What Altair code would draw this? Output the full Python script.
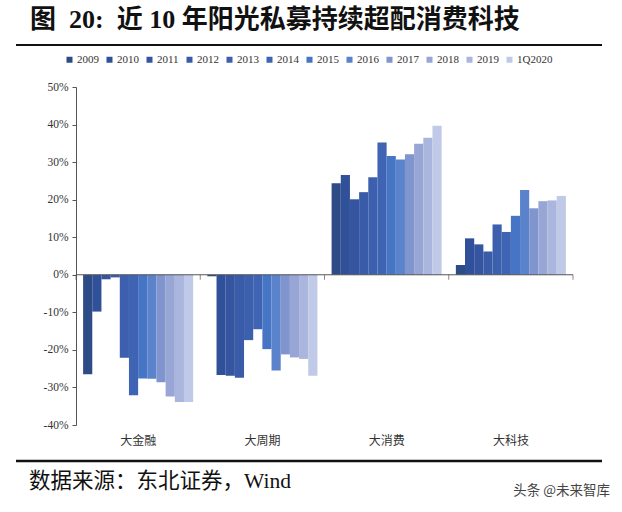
import altair as alt
import pandas as pd

# Sector groups and reporting periods
sectors = ["大金融", "大周期", "大消费", "大科技"]
periods = ["2009", "2010", "2011", "2012", "2013", "2014", "2015",
           "2016", "2017", "2018", "2019", "1Q2020"]

# Over/under-weight vs. benchmark (%), one value per period
finance = [-26.5, -9.8, -1.2, -0.7, -22.1, -32.1, -27.6, -27.7, -28.6, -32.4, -33.9, -33.9]
cyclical = [-0.4, -26.7, -26.9, -27.4, -17.4, -14.5, -19.8, -25.5, -21.2, -22.0, -22.4, -26.9]
consumer = [24.4, 26.6, 20.1, 22.0, 26.0, 35.2, 31.6, 30.7, 32.1, 34.9, 36.5, 39.7]
tech = [2.6, 9.7, 8.1, 6.2, 13.4, 11.4, 15.7, 22.6, 17.7, 19.6, 19.8, 21.0]

palette = ["#2D4B85", "#30509A", "#3555A0", "#3A5BA8", "#3D60AE", "#3F64B3",
           "#4575C4", "#5A83CB", "#8094CD", "#98A6D6", "#AAB6DE", "#C0C9E8"]

NB = "\u00a0"
title_text = "图" + NB * 2 + "20:" + NB * 2 + "近" + NB + "10" + NB + "年阳光私募持续超配消费科技"
source_text = "数据来源：东北证券，Wind"
mark_text_wm = "头条 @未来智库"

rows = []
for sector, series in zip(sectors, [finance, cyclical, consumer, tech]):
    for period, v in zip(periods, series):
        rows.append({"sector": sector, "period": period, "value": v})
df = pd.DataFrame(rows)

W, H = 497, 338
SERIF = "Liberation Serif, Times New Roman, Noto Sans CJK SC"
CJK = "Noto Sans CJK SC"

# Shared scales and axes, repeated identically in every layer
x_scale = alt.Scale(paddingInner=0, paddingOuter=0)
x_axis = alt.Axis(domain=False, ticks=False, labelAngle=0,
                  labelFont=CJK, labelFontSize=12, labelColor="#333333",
                  labelPadding=10)
y_scale = alt.Scale(domain=[-40, 50], nice=False)
y_axis = alt.Axis(values=list(range(-40, 51, 10)), grid=False,
                  labelOverlap=False,
                  domainColor="#555555", tickColor="#555555", tickSize=4,
                  labelFont=SERIF, labelFontSize=11.5, labelColor="#333333",
                  labelPadding=4,
                  labelExpr="(datum.value < 0 ? '-' : '') + abs(datum.value) + '%'")

bars = alt.Chart(df).mark_bar().encode(
    x=alt.X("sector:N", sort=sectors, title=None, scale=x_scale, axis=x_axis),
    xOffset=alt.XOffset("period:N", sort=periods,
                        scale=alt.Scale(paddingInner=0, paddingOuter=0.775)),
    y=alt.Y("value:Q", scale=y_scale, title=None, axis=y_axis),
    color=alt.Color("period:N", sort=periods, title=None,
                    scale=alt.Scale(domain=periods, range=palette),
                    legend=alt.Legend(orient="none", legendX=-12, legendY=-33,
                                      direction="horizontal", columns=12,
                                      symbolType="square", symbolSize=36,
                                      symbolStrokeWidth=0, symbolOpacity=1,
                                      labelFont=SERIF, labelFontSize=11,
                                      labelColor="#333333", labelOffset=2,
                                      columnPadding=5)),
)

zero_df = pd.DataFrame({"v": [0]})
zero_line = alt.Chart(zero_df).mark_rule(color="#555555", strokeWidth=1).encode(
    y=alt.Y("v:Q", scale=y_scale, title=None, axis=y_axis),
    x=alt.value(0), x2=alt.value(W),
)

tick_df = pd.DataFrame({"sector": sectors, "v": [0] * len(sectors)})
boundary_ticks = alt.Chart(tick_df).mark_tick(
    orient="vertical", size=5, thickness=1, color="#555555", yOffset=2.5
).encode(
    x=alt.X("sector:N", sort=sectors, bandPosition=0, title=None,
            scale=x_scale, axis=x_axis),
    y=alt.Y("v:Q", scale=y_scale, title=None, axis=y_axis),
)
end_tick = alt.Chart(tick_df.tail(1)).mark_tick(
    orient="vertical", size=5, thickness=1, color="#555555", yOffset=2.5
).encode(
    x=alt.X("sector:N", sort=sectors, bandPosition=1, title=None,
            scale=x_scale, axis=x_axis),
    y=alt.Y("v:Q", scale=y_scale, title=None, axis=y_axis),
)

one = pd.DataFrame({"t": [0]})
title = alt.Chart(one).mark_text(
    text=title_text, align="left", baseline="middle", font=SERIF,
    fontSize=26, fontWeight="bold", color="#111111"
).encode(x=alt.value(-46), y=alt.value(-67))

top_rule = alt.Chart(one).mark_rule(color="#111111", strokeWidth=2).encode(
    x=alt.value(-60), x2=alt.value(526), y=alt.value(-42))
bottom_rule = alt.Chart(one).mark_rule(color="#111111", strokeWidth=2.5).encode(
    x=alt.value(-60), x2=alt.value(526), y=alt.value(374))

source = alt.Chart(one).mark_text(
    text=source_text, align="left", baseline="middle", font=SERIF,
    fontSize=21.5, color="#111111"
).encode(x=alt.value(-47), y=alt.value(395))

watermark = alt.Chart(one).mark_text(
    text=mark_text_wm, align="right", baseline="middle", font=CJK,
    fontSize=13.5, color="#444444"
).encode(x=alt.value(534), y=alt.value(404))

chart = alt.layer(
    bars, zero_line, boundary_ticks, end_tick,
    title, top_rule, bottom_rule, source, watermark
).properties(
    width=W, height=H,
    padding={"left": 76, "top": 87, "right": 49, "bottom": 87},
    autosize=alt.AutoSizeParams(type="none"),
    background="white",
).configure_view(stroke=None)

chart.save("out.html", embed_options={"renderer": "svg", "actions": False})
